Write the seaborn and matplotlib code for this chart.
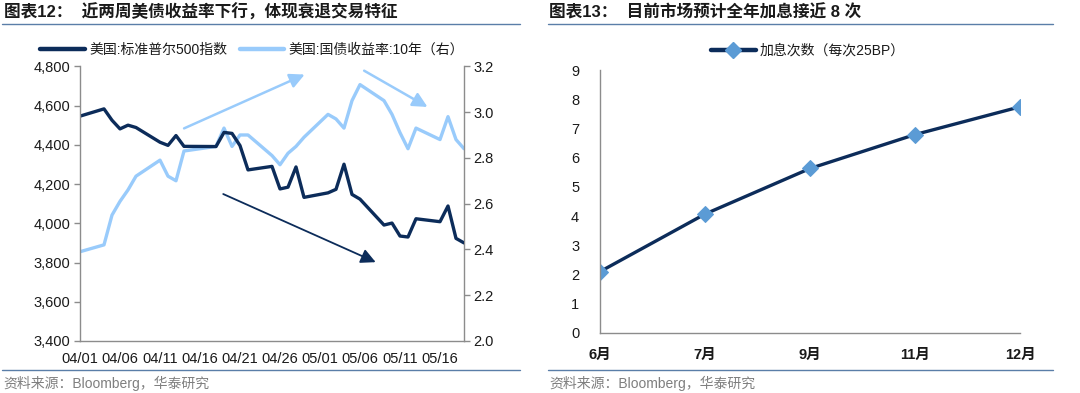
import matplotlib
matplotlib.use('Agg')
import matplotlib.pyplot as plt
from matplotlib.lines import Line2D
from matplotlib.ticker import FuncFormatter
import seaborn as sns
import pandas as pd

# ---------------- data ----------------
dates = ['2022-04-01', '2022-04-04', '2022-04-05', '2022-04-06', '2022-04-07', '2022-04-08',
         '2022-04-11', '2022-04-12', '2022-04-13', '2022-04-14', '2022-04-18', '2022-04-19',
         '2022-04-20', '2022-04-21', '2022-04-22', '2022-04-25', '2022-04-26', '2022-04-27',
         '2022-04-28', '2022-04-29', '2022-05-02', '2022-05-03', '2022-05-04', '2022-05-05',
         '2022-05-06', '2022-05-09', '2022-05-10', '2022-05-11', '2022-05-12', '2022-05-13',
         '2022-05-16', '2022-05-17', '2022-05-18', '2022-05-19']
spx = [4546, 4583, 4525, 4481, 4500, 4488, 4413, 4397, 4447, 4392, 4391, 4463,
       4458, 4396, 4272, 4290, 4175, 4184, 4287, 4132, 4155, 4173, 4301, 4147,
       4123, 3991, 4001, 3935, 3930, 4023, 4008, 4088, 3923, 3900]
ust10y = [2.39, 2.42, 2.55, 2.61, 2.66, 2.72, 2.79, 2.72, 2.70, 2.83, 2.85, 2.93,
          2.85, 2.90, 2.90, 2.81, 2.77, 2.82, 2.85, 2.89, 2.99, 2.97, 2.93, 3.05,
          3.12, 3.05, 2.99, 2.91, 2.84, 2.93, 2.88, 2.98, 2.88, 2.84]
date_ticks = ['2022-04-01', '2022-04-06', '2022-04-11', '2022-04-16', '2022-04-21',
              '2022-04-26', '2022-05-01', '2022-05-06', '2022-05-11', '2022-05-16']
date_tick_labels = ['04/01', '04/06', '04/11', '04/16', '04/21',
                    '04/26', '05/01', '05/06', '05/11', '05/16']
spx_ticks = [3400, 3600, 3800, 4000, 4200, 4400, 4600, 4800]
yield_ticks = [2.0, 2.2, 2.4, 2.6, 2.8, 3.0, 3.2]

months = ['6月', '7月', '9月', '11月', '12月']
hikes = [2.1, 4.07, 5.63, 6.79, 7.74]
hike_ticks = [0, 1, 2, 3, 4, 5, 6, 7, 8, 9]

title_left = '图表12：  近两周美债收益率下行，体现衰退交易特征'
title_right = '图表13：  目前市场预计全年加息接近 8 次'
source_text = '资料来源：Bloomberg，华泰研究'
legend_spx = '美国:标准普尔500指数'
legend_yield = '美国:国债收益率:10年（右）'
legend_hikes = '加息次数（每次25BP）'

# ---------------- style ----------------
sns.set_theme(style='white')
plt.rcParams['font.family'] = ['Liberation Sans', 'Noto Sans CJK SC', 'DejaVu Sans']
plt.rcParams['axes.unicode_minus'] = False

DARK = '#0c2c5a'
LIGHT = '#99cbfb'
MARK = '#5b9bd5'
SPINE = '#8c8c8c'
TXT = '#1a1a1a'
RULE = '#5a7ea8'
TICKFS = 10.5

W, H = 1080, 393
fig = plt.figure(figsize=(W / 100, H / 100), dpi=100)
fig.patch.set_facecolor('white')


def fx(px):
    return px / W


def fy(py):
    return 1 - py / H


# ---------------- left chart ----------------
df = pd.DataFrame({'date': pd.to_datetime(dates), 'spx': spx, 'yield': ust10y})

ax = fig.add_axes([fx(80), fy(341), fx(464) - fx(80), fy(66.3) - fy(341)])
sns.lineplot(data=df, x='date', y='spx', ax=ax, color=DARK, lw=2.4, legend=False)
ax2 = ax.twinx()
sns.lineplot(data=df, x='date', y='yield', ax=ax2, color=LIGHT, lw=2.4, legend=False)
ax.set_zorder(ax2.get_zorder() + 1)
ax.patch.set_visible(False)

ax.set_xlim(pd.Timestamp('2022-04-01'), pd.Timestamp('2022-05-19'))
ax.set_ylim(3400, 4800)
ax2.set_ylim(2.0, 3.2)
ax.set_xticks(pd.to_datetime(date_ticks))
ax.set_xticklabels(date_tick_labels)
ax.set_yticks(spx_ticks)
ax.yaxis.set_major_formatter(FuncFormatter(lambda v, p: f'{int(v):,}'))
ax2.set_yticks(yield_ticks)
ax2.yaxis.set_major_formatter(FuncFormatter(lambda v, p: f'{v:.1f}'))
for a in (ax, ax2):
    a.set_xlabel('')
    a.set_ylabel('')
    a.grid(False)
    for s in a.spines.values():
        s.set_color(SPINE)
        s.set_linewidth(1.0)
    a.spines['top'].set_visible(False)
ax.spines['right'].set_visible(False)
ax2.spines['left'].set_visible(False)
ax2.spines['bottom'].set_visible(False)
ax.tick_params(axis='both', which='major', labelsize=TICKFS, colors=TXT, length=4,
               width=1, direction='out', pad=3, color=SPINE)
ax.tick_params(axis='x', pad=4)
ax2.tick_params(axis='y', labelsize=TICKFS, colors=TXT, length=4, width=1,
                direction='out', pad=3, color=SPINE)
ax2.tick_params(axis='x', bottom=False, labelbottom=False)

arrow_specs = [
    ((0.271, 0.774), (0.585, 0.970), LIGHT, 1.8),
    ((0.740, 0.984), (0.905, 0.852), LIGHT, 1.8),
    ((0.373, 0.535), (0.770, 0.287), DARK, 1.3),
]
for (x0, y0), (x1, y1), c, lw in arrow_specs:
    ax.annotate('', xy=(x1, y1), xycoords='axes fraction',
                xytext=(x0, y0), textcoords='axes fraction',
                arrowprops=dict(arrowstyle='-|>', color=c, lw=lw,
                                mutation_scale=22, shrinkA=0, shrinkB=0),
                annotation_clip=False)

h1 = Line2D([], [], color=DARK, lw=3.2)
h2 = Line2D([], [], color=LIGHT, lw=3.2)
fig.legend([h1, h2], [legend_spx, legend_yield], loc='center',
           bbox_to_anchor=(fx(252), fy(50)), ncol=2, frameon=False,
           fontsize=10, handlelength=3.2, handletextpad=0.3, columnspacing=0.9,
           labelcolor=TXT)

# ---------------- right chart ----------------
dfr = pd.DataFrame({'month': months, 'hikes': hikes})
axr = fig.add_axes([fx(600), fy(333), fx(1020) - fx(600), fy(70) - fy(333)])
sns.lineplot(data=dfr, x='month', y='hikes', ax=axr, color=DARK, lw=2.4,
             marker='D', markersize=8, markerfacecolor=MARK, markeredgecolor=MARK,
             legend=False, sort=False)
axr.set_xlim(0, len(months) - 1)
axr.set_ylim(0, 9)
axr.set_yticks(hike_ticks)
axr.set_xlabel('')
axr.set_ylabel('')
axr.grid(False)
for s in axr.spines.values():
    s.set_color(SPINE)
    s.set_linewidth(1.0)
axr.spines['top'].set_visible(False)
axr.spines['right'].set_visible(False)
axr.tick_params(axis='both', labelsize=TICKFS, colors=TXT, length=4, width=1,
                direction='out', color=SPINE)
axr.tick_params(axis='x', pad=7)
axr.tick_params(axis='y', pad=11)
for lab in axr.get_xticklabels():
    lab.set_fontweight('bold')

hr = Line2D([], [], color=DARK, lw=3.2, marker='D', markersize=8,
            markerfacecolor=MARK, markeredgecolor=MARK)
fig.legend([hr], [legend_hikes], loc='center', bbox_to_anchor=(fx(808), fy(51)),
           frameon=False, fontsize=10, handlelength=3.2, handletextpad=0.3,
           labelcolor=TXT)

# ---------------- titles, rules, sources ----------------
fig.text(fx(4), fy(12), title_left, fontsize=12, fontweight='bold', color=TXT,
         va='center', ha='left')
fig.text(fx(549), fy(12), title_right, fontsize=12, fontweight='bold', color=TXT,
         va='center', ha='left')
for x0, x1 in ((2, 520), (548, 1053)):
    for yy in (24, 370):
        fig.add_artist(Line2D([fx(x0), fx(x1)], [fy(yy), fy(yy)], color=RULE,
                              lw=1.0, transform=fig.transFigure))
fig.text(fx(3), fy(383), source_text, fontsize=10, color='#7f7f7f', va='center', ha='left')
fig.text(fx(549), fy(383), source_text, fontsize=10, color='#7f7f7f', va='center', ha='left')

fig.savefig('out.png', dpi=100, facecolor='white')
